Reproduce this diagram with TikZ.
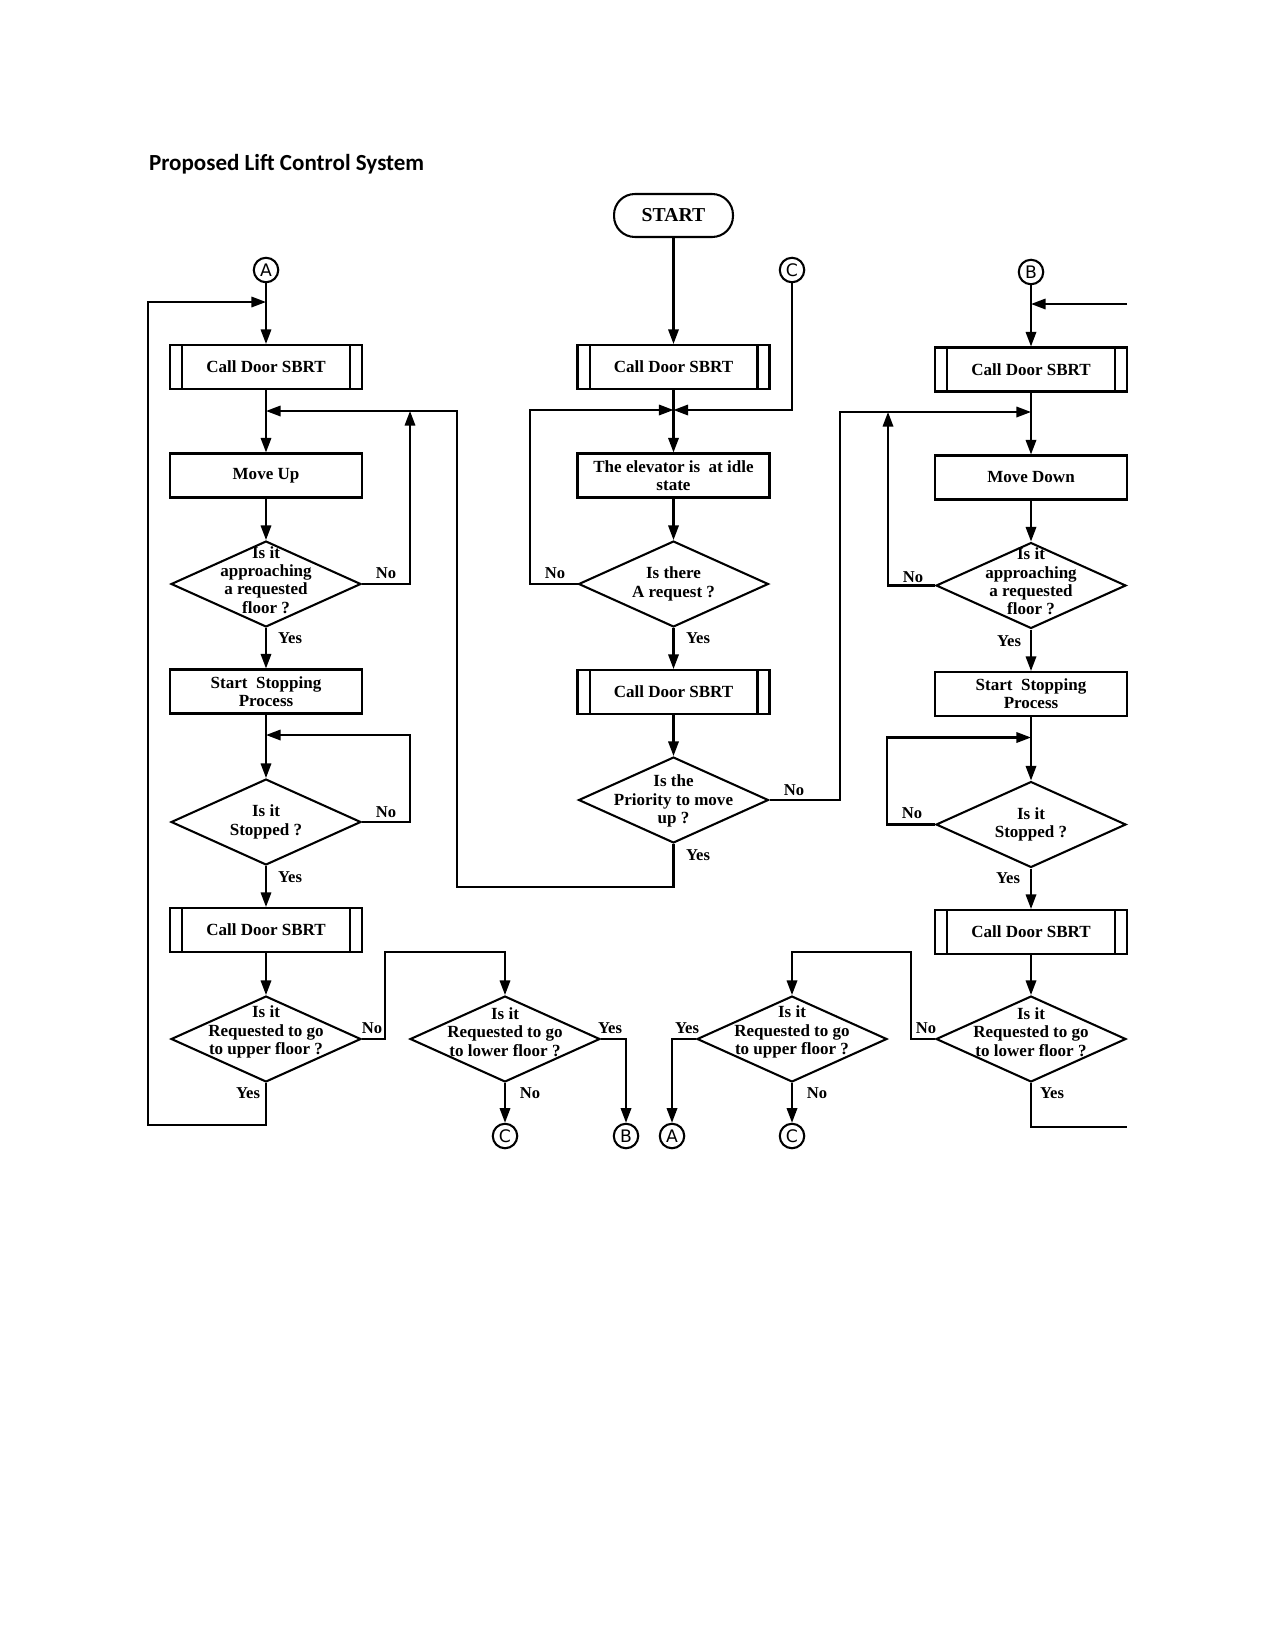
\documentclass[tikz,border=0pt]{standalone}
\usepackage{fontspec}
\setmainfont{Liberation Serif}
\newfontfamily\titlefont{Carlito}
\newfontfamily\connfont{DejaVu Sans}
\usetikzlibrary{shapes.geometric,arrows.meta}
\begin{document}
\begin{tikzpicture}[x=0.48181pt,y=-0.48181pt, line width=1pt,
 every node/.style={font=\bfseries\fontsize{8.2}{8.8}\selectfont},
 box/.style={draw, rectangle, minimum width=92.5pt, minimum height=21.2pt, inner sep=0pt, align=center},
 sub/.style={box, path picture={\draw[line width=1pt]
   ([xshift=5.8pt]path picture bounding box.north west) -- ([xshift=5.8pt]path picture bounding box.south west)
   ([xshift=-5.8pt]path picture bounding box.north east) -- ([xshift=-5.8pt]path picture bounding box.south east);}},
 dia/.style={draw, diamond, minimum width=91.5pt, minimum height=41.4pt, inner sep=0pt},
 dtext/.style={align=center, inner sep=0pt},
 lbl/.style={font=\bfseries\fontsize{8}{9}\selectfont, inner sep=0pt},
 conn/.style={draw, circle, minimum size=11.8pt, inner sep=0pt, font=\connfont\fontsize{8.3}{9}\selectfont},
 startbox/.style={draw, rectangle, rounded corners=10pt, minimum width=57.3pt, minimum height=20.7pt, inner sep=0pt, font=\bfseries\fontsize{9.5}{10}\selectfont},
 arr/.style={-{Triangle[length=7pt,width=5pt]}},
]
\useasboundingbox (0,0) rectangle (1275,1651);

\node[font=\titlefont\bfseries\fontsize{11.1}{13}\selectfont, anchor=base west, inner sep=0pt] (title) at (148,170) {Proposed Lift Control System};

% ---------- left column ----------
\node[conn] (cA1) at (266,270) {A};
\coordinate (jA) at (266,302);
\node[sub] (bL1) at (266,367) {Call Door SBRT};
\coordinate (jL1) at (266,411);
\node[box] (mu) at (266,475.5) {Move Up};
\node[dia] (dLa) at (266,584) {};
\node[dtext] (tLa) at (266,580) {Is it\\approaching\\a requested\\floor ?};
\node[box] (ssL) at (266,691.5) {Start~ Stopping\\Process};
\coordinate (jL2) at (266,735);
\node[dia] (dLs) at (266,822) {};
\node[dtext] (tLs) at (266,822) {Is it\\Stopped ?};
\node[sub] (bL3) at (266,930) {Call Door SBRT};
\node[dia] (dLu) at (266,1039) {};
\node[dtext] (tLu) at (266,1032) {Is it\\Requested to go\\to upper floor ?};
\node[dia] (dLl) at (505,1039) {};
\node[dtext] (tLl) at (505,1032) {Is it\\Requested to go\\to lower floor ?};
\node[conn] (cC1) at (505,1136) {C};
\node[conn] (cB1) at (626,1136) {B};

\draw[arr] (cA1) -- (bL1.north);
\draw[arr] (bL1.south) -- (mu.north);
\draw[arr] (mu.south) -- (dLa.north);
\draw[arr] (dLa.south) -- (ssL.north);
\draw[arr] (ssL.south) -- (dLs.north);
\draw[arr] (dLs.south) -- (bL3.north);
\draw[arr] (bL3.south) -- (dLu.north);

\coordinate (kL1) at (266,1125);
\coordinate (kL2) at (148,1125);
\coordinate (kL3) at (148,302);
\draw[arr] (dLu.south) -- (kL1) -- (kL2) -- (kL3) -- (jA);

\coordinate (kLa) at (410,411);
\draw[arr] (dLa.east) -| (kLa);
\coordinate (kLs) at (410,735);
\draw[arr] (dLs.east) -| (kLs) -- (jL2);

\coordinate (kLu1) at (385,952);
\coordinate (kLu2) at (505,952);
\draw[arr] (dLu.east) -| (kLu1) -- (kLu2) -- (dLl.north);
\coordinate (kLl) at (626,1039);
\draw[arr] (dLl.east) -- (kLl) -- (cB1);
\draw[arr] (dLl.south) -- (cC1);

\node[lbl] (lLa1) at (386,573) {No};
\node[lbl] (lLa2) at (290,638) {Yes};
\node[lbl] (lLs1) at (386,812) {No};
\node[lbl] (lLs2) at (290,877) {Yes};
\node[lbl] (lLu1) at (372,1028) {No};
\node[lbl] (lLu2) at (248,1093) {Yes};
\node[lbl] (lLl1) at (610,1028) {Yes};
\node[lbl] (lLl2) at (530,1093) {No};

% ---------- centre column ----------
\node[startbox] (st) at (673.5,215.5) {START};
\node[sub] (bC1) at (673.5,367) {Call Door SBRT};
\coordinate (jC) at (673.5,410);
\node[conn] (cC0) at (792,270) {C};
\node[box] (idle) at (673.5,475.5) {The elevator is~ at idle\\state};
\node[dia] (dCr) at (673.5,584) {};
\node[dtext] (tCr) at (673.5,584) {Is there\\A request ?};
\node[sub] (bC2) at (673.5,692) {Call Door SBRT};
\node[dia] (dPr) at (673.5,800) {};
\node[dtext] (tPr) at (673.5,801) {Is the\\Priority to move\\up ?};

\draw[arr] (st.south) -- (bC1.north);
\draw[arr] (bC1.south) -- (idle.north);
\draw[arr] (idle.south) -- (dCr.north);
\draw[arr] (dCr.south) -- (bC2.north);
\draw[arr] (bC2.south) -- (dPr.north);

\coordinate (kC1) at (792,410);
\draw[arr] (cC0) -- (kC1) -- (jC);
\coordinate (kC2) at (530,410);
\draw[arr] (dCr.west) -| (kC2) -- (jC);

\coordinate (kP1) at (457,887);
\draw[arr] (dPr.south) |- (kP1) |- (jL1);
\coordinate (jR1) at (1031,412);
\coordinate (kP2) at (840,412);
\draw[arr] (dPr.east) -| (kP2) -- (jR1);

\node[lbl] (lCr1) at (555,573) {No};
\node[lbl] (lCr2) at (698,638) {Yes};
\node[lbl] (lPr1) at (794,790) {No};
\node[lbl] (lPr2) at (698,855) {Yes};

% ---------- right column ----------
\node[conn] (cB0) at (1031,272) {B};
\coordinate (jB) at (1031,304);
\coordinate (fR1) at (1127,304);
\node[sub] (bR1) at (1031,369.5) {Call Door SBRT};
\node[box] (md) at (1031,477.5) {Move Down};
\node[dia] (dRa) at (1031,585.5) {};
\node[dtext] (tRa) at (1031,581.5) {Is it\\approaching\\a requested\\floor ?};
\node[box] (ssR) at (1031,694) {Start~ Stopping\\Process};
\coordinate (jR2) at (1031,737.5);
\node[dia] (dRs) at (1031,824.5) {};
\node[dtext] (tRs) at (1031,824.5) {Is it\\Stopped ?};
\node[sub] (bR2) at (1031,932) {Call Door SBRT};
\node[dia] (dRl) at (1031,1039) {};
\node[dtext] (tRl) at (1031,1032) {Is it\\Requested to go\\to lower floor ?};
\node[dia] (dRu) at (792,1039) {};
\node[dtext] (tRu) at (792,1032) {Is it\\Requested to go\\to upper floor ?};
\node[conn] (cA2) at (672,1136) {A};
\node[conn] (cC2) at (792,1136) {C};

\draw[arr] (cB0) -- (bR1.north);
\draw[arr] (fR1) -- (jB);
\draw[arr] (bR1.south) -- (md.north);
\draw[arr] (md.south) -- (dRa.north);
\draw[arr] (dRa.south) -- (ssR.north);
\draw[arr] (ssR.south) -- (dRs.north);
\draw[arr] (dRs.south) -- (bR2.north);
\draw[arr] (bR2.south) -- (dRl.north);

\coordinate (kRa) at (888,412);
\draw[arr] (dRa.west) -| (kRa);
\coordinate (kRs) at (887,737.5);
\draw[arr] (dRs.west) -| (kRs) -- (jR2);
\coordinate (kRl1) at (911,952);
\coordinate (kRl2) at (792,952);
\draw[arr] (dRl.west) -| (kRl1) -- (kRl2) -- (dRu.north);
\coordinate (kRu) at (672,1039);
\draw[arr] (dRu.west) -- (kRu) -- (cA2);
\draw[arr] (dRu.south) -- (cC2);
\coordinate (kRy1) at (1031,1127);
\coordinate (fR2) at (1127,1127);
\draw (dRl.south) -- (kRy1) -- (fR2);

\node[lbl] (lRa1) at (913,577) {No};
\node[lbl] (lRa2) at (1009,641) {Yes};
\node[lbl] (lRs1) at (912,813) {No};
\node[lbl] (lRs2) at (1008,878) {Yes};
\node[lbl] (lRl1) at (926,1028) {No};
\node[lbl] (lRl2) at (1052,1093) {Yes};
\node[lbl] (lRu1) at (687,1028) {Yes};
\node[lbl] (lRu2) at (817,1093) {No};
\end{tikzpicture}
\end{document}
